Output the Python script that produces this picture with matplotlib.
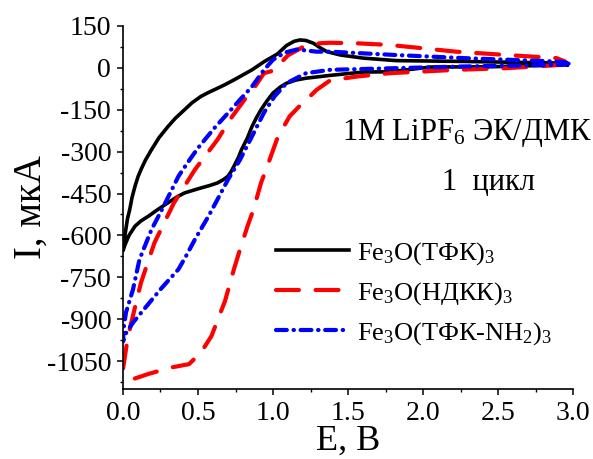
import numpy as np
import matplotlib
matplotlib.use("Agg")
import matplotlib.pyplot as plt
from matplotlib.ticker import MultipleLocator

plt.rcParams["font.family"] = ["Liberation Serif", "DejaVu Serif"]
plt.rcParams["mathtext.fontset"] = "custom"
plt.rcParams["mathtext.rm"] = "Liberation Serif"
plt.rcParams["mathtext.it"] = "Liberation Serif:italic"

# Fe3O(TPA)3 - black, solid (cathodic branch 3 -> 0, then anodic 0 -> 3)
e_tfk = [2.96, 2.45, 2.05, 1.78, 1.60, 1.38, 1.22, 1.15, 1.09, 1.05, 1.00, 0.96,
         0.92, 0.89, 0.86, 0.83, 0.79, 0.77, 0.74, 0.72, 0.70, 0.67, 0.63, 0.58,
         0.52, 0.47, 0.41, 0.36, 0.30, 0.23, 0.17, 0.12, 0.08, 0.04, 0.01, 0.00,
         0.01, 0.02, 0.03, 0.045, 0.06, 0.08, 0.10, 0.12, 0.15, 0.19, 0.24, 0.30,
         0.35, 0.41, 0.46, 0.52, 0.57, 0.63, 0.68, 0.74, 0.80, 0.86, 0.94, 1.03,
         1.09, 1.14, 1.18, 1.22, 1.27, 1.32, 1.36, 1.45, 1.60, 1.82, 2.27, 2.93, 2.96]
i_tfk = [11, 4, 3, -14, -15, -27, -37, -44, -55, -68, -90, -118,
         -150, -178, -210, -250, -293, -320, -352, -372, -388, -400, -412, -421,
         -430, -438, -448, -462, -483, -508, -531, -548, -567, -600, -638, -655,
         -610, -575, -540, -507, -465, -424, -390, -364, -330, -293, -250, -210,
         -180, -150, -125, -102, -88, -73, -60, -43, -25, -7, 22, 50,
         80, 95, 100, 98, 88, 70, 58, 46, 35, 26, 23, 17, 11]

# Fe3O(NDKK)3 - red, dashed
e_ndkk = [2.95, 2.93, 2.56, 2.22, 2.00, 1.78, 1.56, 1.38, 1.29, 1.25, 1.18, 1.11,
          1.03, 0.97, 0.92, 0.87, 0.83, 0.78, 0.74, 0.68, 0.59, 0.52, 0.44,
          0.32, 0.17, 0.07, 0.00,
          0.025, 0.05, 0.12, 0.21, 0.34, 0.48, 0.63, 0.72, 0.81, 0.87, 0.94,
          1.00, 1.10, 1.20, 1.31, 1.38, 1.56, 1.78, 2.00, 2.22, 2.56, 2.89, 2.95]
i_ndkk = [15, 11, -1, -7, -13, -19, -31, -45, -79, -100, -135, -174,
          -250, -340, -412, -507, -567, -650, -720, -835, -960, -1019, -1061,
          -1073, -1096, -1114, -1079,
          -990, -924, -769, -626, -483, -364, -257, -180, -114, -75, -19,
          -10, 45, 75, 88, 90, 88, 82, 70, 58, 46, 35, 22]

# Fe3O(TPA-NH2)3 - blue, dash-dot
e_nh2 = [2.97, 2.93, 2.27, 1.82, 1.38, 1.22, 1.09, 1.01, 0.94, 0.86, 0.78, 0.70,
         0.63, 0.57, 0.48, 0.42, 0.37, 0.25, 0.067, 0.02, 0.00,
         0.005, 0.02, 0.067, 0.11, 0.19, 0.26, 0.37, 0.43, 0.50, 0.61, 0.70,
         0.78, 0.86, 0.94, 1.00, 1.08, 1.16, 1.29, 1.38, 1.82, 2.27, 2.93, 2.97]
i_nh2 = [15, 11, 5, -1, -7, -19, -55, -102, -160, -245, -329, -400,
         -471, -531, -614, -674, -721, -793, -912, -950, -980,
         -930, -876, -793, -686, -579, -507, -388, -340, -287, -215, -162,
         -114, -67, -7, 29, 55, 66, 58, 58, 46, 35, 22, 15]

labels = ["Fe$_3$O(ТФК)$_3$", "Fe$_3$O(НДКК)$_3$", "Fe$_3$O(ТФК-NH$_2$)$_3$"]

fig = plt.figure(figsize=(5.93, 4.59), dpi=100)
ax = fig.add_axes([0.2074, 0.1525, 0.759, 0.7909])

ax.plot(e_tfk, i_tfk, color="black", lw=2.6, label=labels[0])
ax.plot(e_ndkk, i_ndkk, color="#ff0000", lw=3.0, dashes=(5.5, 4.0),
        dash_capstyle="round", label=labels[1])
ax.plot(e_nh2, i_nh2, color="#0000ff", lw=3.0, dashes=(2.6, 1.6, 0.1, 1.6),
        dash_capstyle="round", label=labels[2])

ax.set_xlim(0, 3.0)
ax.set_ylim(-1150, 150)
ax.xaxis.set_major_locator(MultipleLocator(0.5))
ax.xaxis.set_minor_locator(MultipleLocator(0.25))
ax.yaxis.set_major_locator(MultipleLocator(150))
ax.yaxis.set_minor_locator(MultipleLocator(75))
ax.xaxis.set_major_formatter(plt.FuncFormatter(lambda v, p: f"{v:.1f}"))
ax.yaxis.set_major_formatter(plt.FuncFormatter(lambda v, p: f"{int(round(v))}"))

for side in ("top", "right"):
    ax.spines[side].set_visible(False)
for side in ("left", "bottom"):
    ax.spines[side].set_linewidth(1.2)
ax.tick_params(which="major", direction="out", length=4.5, width=1.1,
               labelsize=20, pad=4)
ax.tick_params(axis="x", which="major", pad=4)
ax.tick_params(which="minor", direction="out", length=2.5, width=1.0)

ax.set_xlabel("E, B", fontsize=26, labelpad=-1)
ax.set_ylabel("I, мкА", fontsize=28, labelpad=-2)

fig.text(0.998, 0.71, "1M LiPF$_6$ ЭК/ДМК", fontsize=22, ha="right", va="center")
fig.text(0.823, 0.603, "1  цикл", fontsize=22, ha="center", va="center")

ax.legend(loc="upper left", bbox_to_anchor=(0.466, 0.477),
          bbox_transform=fig.transFigure, frameon=False, fontsize=19,
          handlelength=2.75, handletextpad=0.3, labelspacing=0.5,
          borderpad=0, borderaxespad=0)

fig.savefig("out.png", dpi=100)
